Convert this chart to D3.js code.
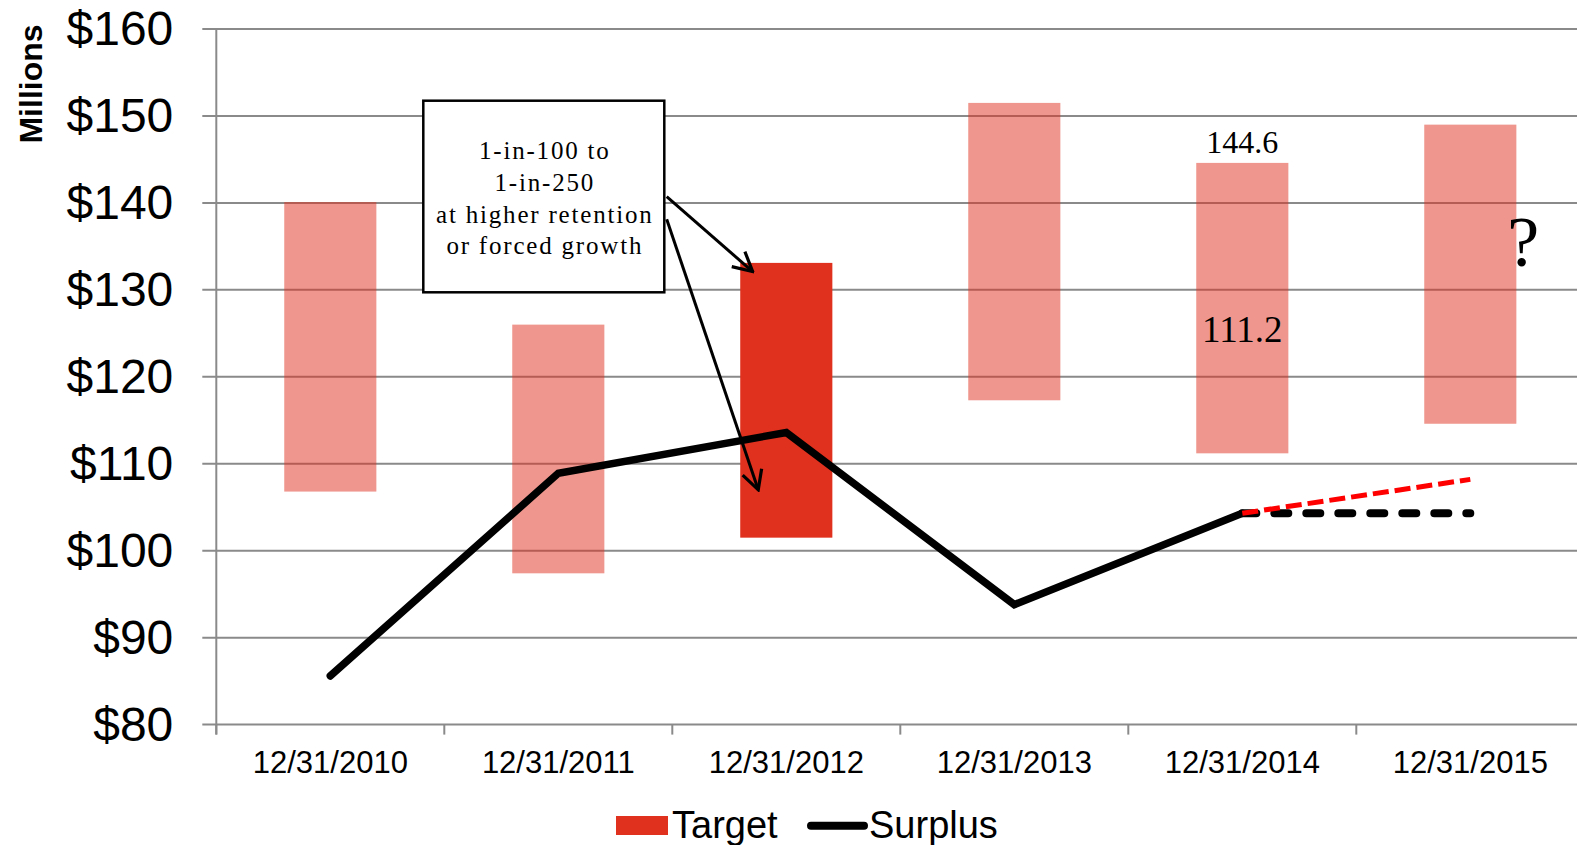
<!DOCTYPE html>
<html>
<head>
<meta charset="utf-8">
<script src="https://cdn.jsdelivr.net/npm/d3@7"></script>
<style>
  html, body { margin: 0; padding: 0; background: #ffffff; overflow: hidden; }
  svg { display: block; }
</style>
</head>
<body>
<svg id="chart" width="1577" height="845"></svg>
<script>
// ---- data ----
const categories = ["12/31/2010", "12/31/2011", "12/31/2012", "12/31/2013", "12/31/2014", "12/31/2015"];
const targetLow  = [106.8, 97.4, 101.5, 117.3, 111.2, 114.6];
const targetHigh = [140.1, 126.0, 133.1, 151.5, 144.6, 149.0];
const highlighted = "12/31/2012";
const surplus = [85.6, 108.9, 113.6, 93.8, 104.3];
// projections from the last year-end forward
const flatCats = ["12/31/2014", "12/31/2015"];
const flatVals = [104.3, 104.3];
const growthCats = ["12/31/2014", "12/31/2015"];
const growthVals = [104.3, 108.2];
const yTicks = [80, 90, 100, 110, 120, 130, 140, 150, 160];
const noteLines = ["1-in-100 to", "1-in-250", "at higher retention", "or forced growth"];
const labelTop = "144.6";
const labelBottom = "111.2";

// ---- layout ----
const svg = d3.select("#chart");
const plot = { left: 216.3, right: 1584.3, top: 29, bottom: 724.6 };
const RED = "#E0301E";
const GRID = "#8a8a8a";
const sans = "'Liberation Sans', Arial, sans-serif";
const serif = "'Liberation Serif', 'Times New Roman', serif";

const x = d3.scaleBand().domain(categories).range([plot.left, plot.right]).paddingInner(0).paddingOuter(0);
const y = d3.scaleLinear().domain([80, 160]).range([plot.bottom, plot.top]);
const cx = c => x(c) + x.bandwidth() / 2;
const barW = x.bandwidth() * 0.404;

// gridlines
svg.append("g").selectAll("line").data(yTicks).join("line")
  .attr("x1", plot.left - 14).attr("x2", plot.right)
  .attr("y1", d => y(d)).attr("y2", d => y(d))
  .attr("stroke", GRID).attr("stroke-width", 2);

// y axis
const yAxis = d3.axisLeft(y).tickValues(yTicks).tickSize(0).tickPadding(0)
  .tickFormat(d => "$" + d);
const gy = svg.append("g").attr("transform", `translate(${plot.left},0)`).call(yAxis);
gy.select(".domain").remove();
gy.selectAll("text")
  .attr("x", 173.3 - plot.left).attr("dy", "0.33em")
  .attr("font-family", sans).attr("font-size", 48).attr("fill", "#000")
  .attr("text-anchor", "end");
svg.append("line")
  .attr("x1", plot.left).attr("x2", plot.left)
  .attr("y1", plot.top).attr("y2", plot.bottom + 10)
  .attr("stroke", GRID).attr("stroke-width", 2);

// x axis
const xAxis = d3.axisBottom(x).tickSize(0).tickPadding(0);
const gx = svg.append("g").attr("transform", `translate(0,${plot.bottom})`).call(xAxis);
gx.select(".domain").remove();
gx.selectAll("text")
  .attr("y", 772.7 - plot.bottom).attr("dy", 0)
  .attr("font-family", sans).attr("font-size", 31).attr("fill", "#000");
svg.append("g").selectAll("line").data(categories).join("line")
  .attr("x1", d => x(d)).attr("x2", d => x(d))
  .attr("y1", plot.bottom).attr("y2", plot.bottom + 10)
  .attr("stroke", GRID).attr("stroke-width", 2);

// axis title
svg.append("text")
  .attr("transform", "translate(41.7,84) rotate(-90)")
  .attr("text-anchor", "middle")
  .attr("font-family", sans).attr("font-weight", "bold").attr("font-size", 32)
  .text("Millions");

// target range bars
const bars = categories.map((c, i) => ({ c, lo: targetLow[i], hi: targetHigh[i] }));
svg.append("g").selectAll("rect").data(bars).join("rect")
  .attr("x", d => cx(d.c) - barW / 2)
  .attr("width", barW)
  .attr("y", d => y(d.hi))
  .attr("height", d => y(d.lo) - y(d.hi))
  .attr("fill", RED)
  .attr("fill-opacity", d => d.c === highlighted ? 1 : 0.5);

// surplus line
const line = d3.line().x(d => cx(d.c)).y(d => y(d.v));
svg.append("path")
  .datum(surplus.map((v, i) => ({ c: categories[i], v })))
  .attr("d", line)
  .attr("fill", "none").attr("stroke", "#000").attr("stroke-width", 7.5)
  .attr("stroke-linejoin", "miter").attr("stroke-linecap", "round");

// projections
svg.append("path")
  .datum(flatCats.map((c, i) => ({ c, v: flatVals[i] })))
  .attr("d", line)
  .attr("fill", "none").attr("stroke", "#000").attr("stroke-width", 8)
  .attr("stroke-dasharray", "14 18").attr("stroke-linecap", "round");
svg.append("path")
  .datum(growthCats.map((c, i) => ({ c, v: growthVals[i] })))
  .attr("d", line)
  .attr("fill", "none").attr("stroke", "#ff0000").attr("stroke-width", 5)
  .attr("stroke-dasharray", "16 6");

// value labels on the 2014 range
const c14 = "12/31/2014";
svg.append("text")
  .attr("x", cx(c14)).attr("y", y(144.6) - 9.6)
  .attr("text-anchor", "middle").attr("font-family", serif).attr("font-size", 32)
  .text(labelTop);
svg.append("text")
  .attr("x", cx(c14)).attr("y", (y(144.6) + y(111.2)) / 2 + 34)
  .attr("text-anchor", "middle").attr("font-family", serif).attr("font-size", 37)
  .text(labelBottom);

// question mark beside the 2015 range
const c15 = "12/31/2015";
svg.append("text")
  .attr("x", cx(c15) + 53).attr("y", 265.7)
  .attr("text-anchor", "middle").attr("font-family", serif).attr("font-size", 72)
  .text("?");

// callout box with arrows into the 2012 range
const box = { x: 423.3, y: 100.7, w: 241, h: 191.6 };
const c12 = "12/31/2012";
const defs = svg.append("defs");
defs.append("marker")
  .attr("id", "vhead").attr("viewBox", "-22 -12 24 24")
  .attr("refX", 0).attr("refY", 0)
  .attr("markerWidth", 24).attr("markerHeight", 24)
  .attr("markerUnits", "userSpaceOnUse").attr("orient", "auto")
  .append("path")
  .attr("d", "M-19,-10 L0,0 L-19,10")
  .attr("fill", "none").attr("stroke", "#000").attr("stroke-width", 3.2);

const arrows = [
  { x1: box.x + box.w + 2.4, y1: 196.7, x2: cx(c12) - barW / 2 + 12.4, y2: y(132.1) },
  { x1: box.x + box.w + 2.4, y1: 219.3, x2: cx(c12) - barW / 2 + 18, y2: y(107.0) }
];
svg.append("g").selectAll("line").data(arrows).join("line")
  .attr("x1", d => d.x1).attr("y1", d => d.y1)
  .attr("x2", d => d.x2).attr("y2", d => d.y2)
  .attr("stroke", "#000").attr("stroke-width", 3)
  .attr("marker-end", "url(#vhead)");

svg.append("rect")
  .attr("x", box.x).attr("y", box.y).attr("width", box.w).attr("height", box.h)
  .attr("fill", "#fff").attr("stroke", "#000").attr("stroke-width", 2.5);
svg.append("g").selectAll("text").data(noteLines).join("text")
  .attr("x", box.x + box.w / 2 + 1)
  .attr("y", (d, i) => 159.3 + i * 31.7)
  .attr("text-anchor", "middle")
  .attr("font-family", serif).attr("font-size", 25)
  .attr("letter-spacing", "1.8px")
  .text(d => d);

// legend
const lg = svg.append("g");
lg.append("rect").attr("x", 616).attr("y", 816).attr("width", 52).attr("height", 19).attr("fill", RED);
lg.append("text").attr("x", 672).attr("y", 838).attr("font-family", sans).attr("font-size", 38).text("Target");
lg.append("line").attr("x1", 811).attr("x2", 864).attr("y1", 825.7).attr("y2", 825.7)
  .attr("stroke", "#000").attr("stroke-width", 8).attr("stroke-linecap", "round");
lg.append("text").attr("x", 869).attr("y", 838).attr("font-family", sans).attr("font-size", 38).text("Surplus");
</script>
</body>
</html>
